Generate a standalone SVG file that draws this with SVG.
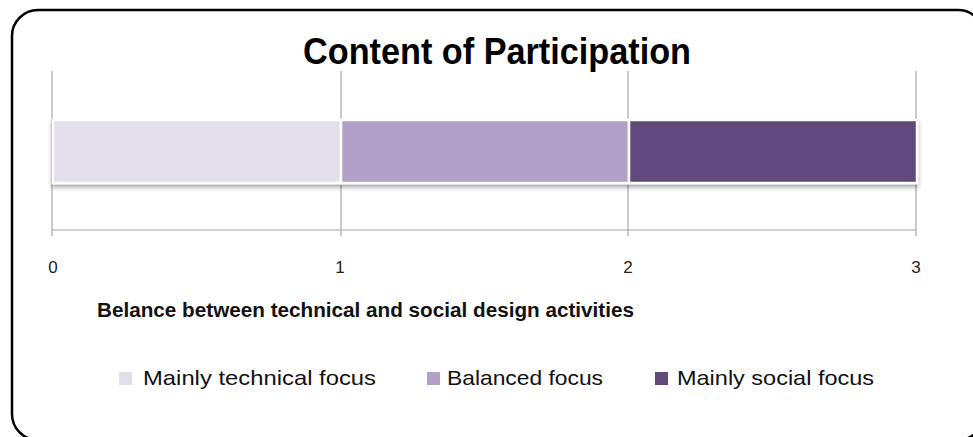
<svg xmlns="http://www.w3.org/2000/svg" width="973" height="437" viewBox="0 0 973 437">
<defs>
<style>
.grid{stroke:#A6A6A6;stroke-width:1.2;fill:none}
.tick{font-family:"Liberation Sans",Arial,sans-serif;font-size:17px;fill:#222;text-anchor:middle}
.leg{font-family:"Liberation Sans",Arial,sans-serif;font-size:21px;fill:#111}
.seg{stroke:#FFFFFF;stroke-width:2.5}
</style>
<filter id="sh" x="-5%" y="-20%" width="110%" height="160%">
<feDropShadow dx="0" dy="3" stdDeviation="2" flood-color="#000" flood-opacity="0.35"/>
</filter>
</defs>
<rect width="973" height="437" fill="#FFFFFF"/>
<rect id="frame" x="12" y="10" width="972" height="430" rx="26" ry="26" fill="none" stroke="#000" stroke-width="2.5"/>
<text id="title" x="497" y="64" font-family="'Liberation Sans',Arial,sans-serif" font-size="36" font-weight="bold" text-anchor="middle" textLength="388" lengthAdjust="spacingAndGlyphs" fill="#000">Content of Participation</text>
<g id="connectors">
<g id="grid" class="grid">
<line x1="52" y1="71" x2="52" y2="236"/>
<line x1="341" y1="71" x2="341" y2="236"/>
<line x1="628" y1="71" x2="628" y2="236"/>
<line x1="916" y1="71" x2="916" y2="236"/>
<line x1="52" y1="230" x2="916" y2="230"/>
</g>
</g>
<g id="bar" filter="url(#sh)">
<rect id="seg-technical" class="seg" x="53" y="120" width="288" height="63" fill="#E4DFEC"/>
<rect id="seg-balanced" class="seg" x="341" y="120" width="288" height="63" fill="#B1A0C7"/>
<rect id="seg-social" class="seg" x="629" y="120" width="288" height="63" fill="#604A7B"/>
</g>
<g id="ticks">
<text class="tick" x="53" y="273">0</text>
<text class="tick" x="340" y="273">1</text>
<text class="tick" x="628" y="273">2</text>
<text class="tick" x="916" y="273">3</text>
</g>
<text id="axis-title" x="97" y="317" font-family="'Liberation Sans',Arial,sans-serif" font-size="20" font-weight="bold" textLength="537" lengthAdjust="spacingAndGlyphs" fill="#111">Belance between technical and social design activities</text>
<g id="legend">
<g id="leg-technical">
<rect x="119" y="372" width="13" height="13" fill="#E4DFEC"/>
<text class="leg" x="143" y="385" textLength="233" lengthAdjust="spacingAndGlyphs">Mainly technical focus</text>
</g>
<g id="leg-balanced">
<rect x="427" y="372" width="13" height="13" fill="#B1A0C7"/>
<text class="leg" x="447" y="385" textLength="156" lengthAdjust="spacingAndGlyphs">Balanced focus</text>
</g>
<g id="leg-social">
<rect x="655" y="372" width="13" height="13" fill="#604A7B"/>
<text class="leg" x="677" y="385" textLength="197" lengthAdjust="spacingAndGlyphs">Mainly social focus</text>
</g>
</g>
</svg>
